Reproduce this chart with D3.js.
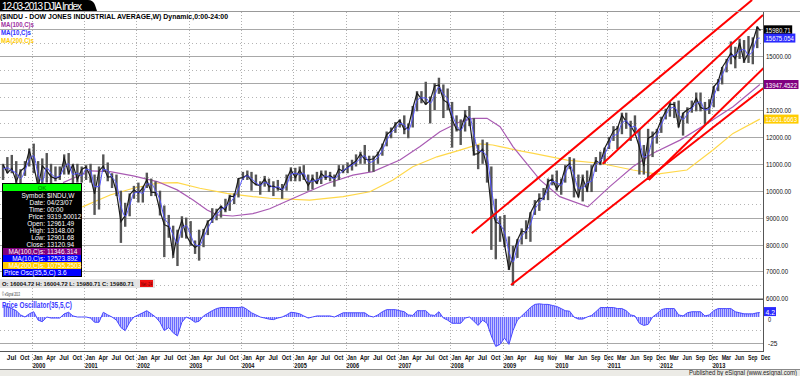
<!DOCTYPE html>
<html>
<head>
<meta charset="utf-8">
<script src="https://cdn.jsdelivr.net/npm/d3@7"></script>
<style>
  body { margin: 0; background: #fff; }
  svg { display: block; font-family: "Liberation Sans", Arial, sans-serif; }
</style>
</head>
<body>
<div id="chart"></div>
<script>
// monthly bars, Jun 1999 .. Dec 2013
const firstMonth = "1999-06-15";
const lastBarDate = "2013-12-03";

const closes = [
  10970, 10655, 10829, 10337, 10729, 10878, 11497,
  10940, 10128, 10922, 10734, 10522, 10448, 10522, 11215, 10651, 10971, 10415, 10787,
  10887, 10495, 9879, 10735, 10912, 10502, 10523, 9950, 8848, 9075, 9852, 10022,
  9920, 10106, 10404, 9946, 9925, 9243, 8737, 8664, 7592, 8397, 8896, 8342,
  8054, 7891, 7992, 8480, 8850, 8985, 9234, 9416, 9275, 9801, 9782, 10454,
  10488, 10584, 10358, 10226, 10188, 10435, 10140, 10174, 10080, 10027, 10428, 10783,
  10490, 10766, 10504, 10193, 10467, 10275, 10641, 10482, 10568, 10440, 10806, 10718,
  10865, 10993, 11109, 11367, 11168, 11150, 11186, 11381, 11679, 12081, 12222, 12463,
  12622, 12269, 12354, 13063, 13628, 13409, 13212, 13358, 13896, 13930, 13372, 13265,
  12650, 12266, 12263, 12820, 12638, 11350, 11378, 11544, 10851, 9325, 8829, 8776,
  8001, 7063, 7609, 8168, 8500, 8447, 9172, 9496, 9712, 9713, 10345, 10428,
  10067, 10325, 10857, 11009, 10137, 9774, 10466, 10015, 10788, 11118, 11006, 11578,
  11892, 12226, 12320, 12811, 12570, 12414, 12143, 11614, 10913, 11955, 12046, 12218,
  12633, 12952, 13212, 13214, 12393, 12880, 13009, 13091, 13437, 13096, 13026, 13104,
  13861, 14054, 14579, 14840, 15116, 14910, 15500, 14810, 15130, 15546, 16086, 15980.71
];
const highs = [
  11000, 11250, 11330, 11100, 10800, 11100, 11570,
  11750, 11100, 11200, 11400, 11000, 10900, 10900, 11350, 11400, 10980, 11000, 10900,
  10950, 11000, 10600, 10900, 11350, 11050, 10650, 10600, 10000, 9550, 9900, 10180,
  10300, 10160, 10670, 10450, 10350, 10000, 9450, 9100, 8700, 8550, 9050, 9000,
  8870, 8150, 8550, 8580, 8900, 9350, 9330, 9450, 9700, 9850, 9900, 10470,
  10700, 10750, 10700, 10600, 10350, 10550, 10450, 10350, 10400, 10250, 10600, 10870,
  10850, 10900, 10950, 10600, 10600, 10700, 10750, 10750, 10700, 10600, 10950, 10950,
  11050, 11150, 11350, 11450, 11700, 11300, 11300, 11450, 11750, 12200, 12350, 12550,
  12650, 12800, 12500, 13150, 13700, 13700, 14050, 13500, 14000, 14200, 13950, 13800,
  13300, 12800, 12650, 13000, 13150, 12700, 11700, 11900, 11800, 10900, 9700, 9050,
  9100, 8300, 7950, 8200, 8600, 8900, 9200, 9650, 9900, 10100, 10450, 10600,
  10750, 10450, 10950, 11250, 11200, 10600, 10600, 10750, 10950, 11250, 11450, 11600,
  12000, 12400, 12400, 12900, 12900, 12600, 12800, 12300, 11700, 12300, 12200, 12300,
  12750, 13050, 13300, 13300, 13350, 12900, 13100, 13350, 13650, 13650, 13300, 13400,
  13900, 14150, 14600, 14900, 15550, 15350, 15650, 15600, 15750, 15700, 16100, 16005
];
const lows = [
  10400, 10650, 10650, 10200, 9900, 10550, 10900,
  10650, 9860, 9730, 10300, 10200, 10350, 10400, 10600, 10600, 9650, 10300, 10300,
  10400, 10300, 9100, 9300, 10700, 10350, 10100, 9800, 8060, 8660, 9050, 9700,
  9560, 9560, 10100, 9800, 9800, 9080, 7530, 8250, 7500, 7200, 8250, 8220,
  7950, 7650, 7400, 7900, 8350, 8800, 8900, 9000, 9200, 9250, 9500, 9750,
  10400, 10400, 10000, 10200, 9850, 10150, 9950, 9800, 10000, 9700, 10000, 10350,
  10350, 10350, 10400, 10000, 10050, 10250, 10250, 10400, 10350, 10150, 10400, 10650,
  10650, 10750, 10900, 11000, 11000, 10700, 10700, 11000, 11300, 11650, 11950, 12150,
  12350, 12100, 11950, 12350, 12950, 13250, 13200, 12500, 13000, 13600, 12700, 13000,
  11600, 12200, 11700, 12200, 12400, 11300, 10800, 11000, 10300, 7800, 7450, 8100,
  7900, 7050, 6470, 7500, 8000, 8200, 8100, 9100, 9250, 9650, 9650, 10200,
  10000, 9850, 10300, 10800, 9750, 9750, 9600, 9950, 9950, 10700, 10950, 11000,
  11550, 11850, 11550, 12100, 12300, 11850, 12100, 10600, 10600, 10400, 11250, 11750,
  12150, 12650, 12750, 12700, 12350, 12050, 12500, 12900, 12950, 12950, 12450, 12850,
  13100, 13700, 13950, 14400, 14700, 14550, 14900, 14750, 14750, 14700, 15300, 15950
];
const ma10 = [
  10800, 10850, 10750, 10650, 10450, 10750, 11150,
  11300, 10600, 10350, 10850, 10650, 10500, 10550, 10850, 11000, 10600, 10650, 10550,
  10800, 10750, 10150, 10150, 10800, 10750, 10500, 10250, 9450, 9050, 9450, 9900,
  9950, 9900, 10250, 10250, 10000, 9650, 9000, 8750, 8350, 8050, 8600, 8700,
  8350, 8000, 7950, 8250, 8600, 8900, 9100, 9300, 9400, 9550, 9750, 10050,
  10450, 10550, 10450, 10300, 10200, 10300, 10250, 10100, 10150, 10050, 10200, 10600,
  10650, 10600, 10650, 10350, 10350, 10400, 10450, 10550, 10500, 10450, 10600, 10750,
  10850, 10950, 11050, 11200, 11300, 11050, 11100, 11250, 11500, 11850, 12150, 12300,
  12500, 12450, 12250, 12700, 13350, 13450, 13450, 13250, 13550, 13850, 13600, 13400,
  12850, 12450, 12250, 12550, 12750, 12100, 11500, 11450, 11250, 10100, 9100, 8750,
  8450, 7750, 7350, 7950, 8300, 8500, 8750, 9300, 9550, 9750, 10050, 10350,
  10300, 10200, 10600, 10950, 10600, 10100, 10100, 10300, 10350, 10950, 11100, 11350,
  11700, 12050, 12100, 12500, 12600, 12350, 12400, 11900, 11250, 11350, 11900, 12050,
  12450, 12800, 13050, 13100, 12850, 12650, 12850, 13050, 13250, 13300, 13000, 13050,
  13500, 13950, 14300, 14650, 15000, 15050, 15200, 15250, 15050, 15200, 15650, 15675.054
];
const oscValues = [
  11, 10, 8, 6, 2, 0, 3,
  5, -3, -4.5, 0, -1, -1, -1, 3, 4.5, 1, 0, 0,
  0, -1, -5, -5, 4.5, 2, 0, -3, -10, -13, -5, 0,
  2, 4, 6, 3, 0, -5, -13, -10, -15, -18, -5, 0,
  -2, -5, -4, 1, 3.5, 6, 8, 9, 9, 9, 9, 9,
  9.5, 7, 4, 2, 0, -1, -2, -2.5, -1, 0, 2, 4.5,
  4, 3, 1, -1, 0, 1, 1, 1, 1, 0, 2, 4,
  4, 4, 4, 4, 4, 1, 0, 2, 5, 7, 7, 7,
  6, 5, 2, 1.5, 6, 6, 6, 2, 1.5, 5, -1, -3,
  -6, -6, -6, -1, 0, -4, -8, -3, -6, -18, -28, -26,
  -20, -26, -13, -3, 1, 5, 9, 12, 12.5, 12, 12, 11,
  10, 8, 6, 5.5, 0, -2, -2, 0, 1.5, 5, 9, 9,
  9, 9, 8, 8, 6, 2, 1, -6, -8, -7, 0, 3,
  7, 8, 8, 8, 2, 1, 4, 5, 5, 5, 1, 2,
  6, 8, 8, 8, 8, 5, 4, 3, 3, 3, 4, 4.2
];

// long moving averages
const ma100Dates = ["2000-08-07", "2001-02-12", "2001-07-02", "2001-12-10", "2002-05-27", "2002-10-13",
  "2003-02-01", "2003-05-10", "2003-07-18", "2003-11-05", "2004-03-25", "2004-07-20", "2005-01-01",
  "2005-08-25", "2006-02-21", "2006-07-11", "2007-01-15", "2007-06-05", "2007-10-22", "2008-03-10",
  "2008-06-09", "2008-09-15", "2008-12-15", "2009-03-15", "2009-05-05", "2009-09-20", "2010-02-05",
  "2010-08-20", "2011-01-20", "2011-07-01", "2011-11-18", "2012-05-25", "2012-11-30", "2013-05-30",
  "2013-12-03"];
const ma100Vals = [10300, 10740, 10710, 10550, 10340, 10030, 9650, 9280, 9100, 9060, 9150, 9330, 9720,
  10270, 10580, 10710, 11140, 11640, 12190, 12560, 12690, 12690, 12380, 11640, 11300, 10400, 9780,
  9400, 10150, 10890, 11390, 11880, 12500, 13120, 13947.4522];
const ma200Dates = ["2000-12-20", "2001-07-02", "2001-12-10", "2002-05-27", "2002-10-13", "2003-03-20",
  "2003-09-25", "2004-03-25", "2004-07-20", "2005-04-25", "2005-12-15", "2006-06-20", "2006-11-28",
  "2007-04-15", "2007-10-01", "2008-03-10", "2008-07-28", "2008-10-25", "2008-12-15", "2009-05-05",
  "2009-08-05", "2010-03-28", "2010-11-12", "2011-07-01", "2011-12-15", "2012-07-12", "2013-01-10",
  "2013-05-30", "2013-12-03"];
const ma200Vals = [9400, 9840, 10090, 10280, 10300, 10090, 9900, 9780, 9720, 9650, 9780, 9960, 10400,
  10890, 11260, 11510, 11740, 11700, 11640, 11480, 11390, 11140, 11020, 10770, 10620, 10770, 11510,
  12130, 12661.6663];

// red channel lines drawn on the chart: [start date, start value, end date, end value]
const trendLines = [
  ["2008-05-31", 8416, "2013-10-10", 17090],
  ["2010-12-01", 11000, "2013-12-25", 16530],
  ["2009-03-01", 6494, "2014-01-08", 13860],
  ["2011-10-20", 10398, "2014-01-08", 14610]
];

const priceTicks = d3.range(6000, 16001, 1000);
const monthTicks = ["1999-07", "1999-10",
  "2000-01", "2000-04", "2000-07", "2000-10", "2001-01", "2001-04", "2001-07", "2001-10",
  "2002-01", "2002-04", "2002-07", "2002-10", "2003-01", "2003-04", "2003-07", "2003-10",
  "2004-01", "2004-04", "2004-07", "2004-10", "2005-01", "2005-04", "2005-07", "2005-10",
  "2006-01", "2006-04", "2006-07", "2006-10", "2007-01", "2007-04", "2007-07", "2007-10",
  "2008-01", "2008-04", "2008-07", "2008-10", "2009-01", "2009-04", "2009-08", "2009-11",
  "2010-03", "2010-06", "2010-09", "2010-12", "2011-03", "2011-06", "2011-09", "2011-12",
  "2012-03", "2012-06", "2012-09", "2012-12", "2013-03", "2013-06", "2013-09", "2013-12"];
const yearTicks = d3.range(2000, 2014);

const dataWindowRows = [["Symbol:", "$INDU,W"], ["Date:", "04/23/07"], ["Time:", "00:00"],
  ["Price:", "9319.50012"], ["Open:", "12961.49"], ["High:", "13148.00"], ["Low:", "12901.68"],
  ["Close:", "13120.94"]];

// ---------- scales ----------
const W = 800, H = 376;
const plotRight = 763;
const parseDay = d3.timeParse("%Y-%m-%d");
const parseMonth = d3.timeParse("%Y-%m");
const charW = 3.15; // the chart's narrow label font, px per char

const x = d3.scaleTime()
  .domain([new Date(2000, 0, 1), new Date(2013, 0, 1)])
  .range([31.7, 711.7]);
const y = d3.scaleLinear().domain([16000, 6000]).range([29.3, 298.3]);
const yo = d3.scaleLinear().domain([0, -25]).range([317, 343.3]);

const start = parseDay(firstMonth);
const months = closes.map((c, i) => i === closes.length - 1 ? parseDay(lastBarDate) : d3.timeMonth.offset(start, i));
const bars = months.map((d, i) => ({ date: d, high: highs[i], low: lows[i], close: closes[i], ma: ma10[i], osc: oscValues[i] }));

const valueTags = [
  { v: closes[closes.length - 1], label: "15980.71", bg: "#000" },
  { v: ma10[ma10.length - 1], label: "15675.054", bg: "#2a2aff" },
  { v: ma100Vals[ma100Vals.length - 1], label: "13947.4522", bg: "#800080" },
  { v: ma200Vals[ma200Vals.length - 1], label: "12661.6663", bg: "#ffcc00" }
];

const svg = d3.select("#chart").append("svg").attr("width", W).attr("height", H);
svg.append("rect").attr("width", W).attr("height", H).attr("fill", "#fff");

const defs = svg.append("defs");
defs.append("clipPath").attr("id", "mainClip").append("rect")
  .attr("x", 0).attr("y", 0).attr("width", plotRight).attr("height", 298);
defs.append("clipPath").attr("id", "oscClip").append("rect")
  .attr("x", 0).attr("y", 300).attr("width", plotRight).attr("height", 51);
const pat = defs.append("pattern").attr("id", "oscFill").attr("patternUnits", "userSpaceOnUse")
  .attr("width", 2).attr("height", 4);
pat.append("rect").attr("width", 2).attr("height", 4).attr("fill", "#c0c0ff");
pat.append("rect").attr("width", 1).attr("height", 4).attr("fill", "#6a6aff");

// ---------- grid ----------
const grid = svg.append("g");
d3.range(6000, 16001, 500).forEach(v => {
  grid.append("line").attr("x1", 0).attr("x2", plotRight)
    .attr("y1", Math.round(y(v)) + 0.5).attr("y2", Math.round(y(v)) + 0.5)
    .attr("stroke", v % 1000 === 0 ? "#a8a8a8" : "#b4b4b4")
    .attr("stroke-dasharray", v % 1000 === 0 ? null : "1,3");
});
grid.append("line").attr("x1", 0).attr("x2", plotRight).attr("y1", 330.5).attr("y2", 330.5)
  .attr("stroke", "#b4b4b4").attr("stroke-dasharray", "1,3");
grid.append("line").attr("x1", 0).attr("x2", plotRight).attr("y1", 343.5).attr("y2", 343.5)
  .attr("stroke", "#a8a8a8");
grid.selectAll("line.yr").data(yearTicks).join("line").attr("class", "yr")
  .attr("x1", d => Math.round(x(new Date(d, 0, 1))) + 0.5)
  .attr("x2", d => Math.round(x(new Date(d, 0, 1))) + 0.5)
  .attr("y1", 12).attr("y2", 369)
  .attr("stroke", "#b0b0b0").attr("stroke-dasharray", "1,2");

// ---------- price panel ----------
const main = svg.append("g").attr("clip-path", "url(#mainClip)");

main.append("path").datum(ma200Dates.map((d, i) => [parseDay(d), ma200Vals[i]]))
  .attr("fill", "none").attr("stroke", "#ffd84a").attr("stroke-width", 1.2)
  .attr("d", d3.line().x(d => x(d[0])).y(d => y(d[1])));
main.append("path").datum(ma100Dates.map((d, i) => [parseDay(d), ma100Vals[i]]))
  .attr("fill", "none").attr("stroke", "#a95bb3").attr("stroke-width", 1.2)
  .attr("d", d3.line().x(d => x(d[0])).y(d => y(d[1])));

main.selectAll("rect.bar").data(bars).join("rect").attr("class", "bar")
  .attr("x", d => x(d.date) - 1.2).attr("width", 2.4)
  .attr("y", d => y(d.high)).attr("height", d => y(d.low) - y(d.high))
  .attr("fill", "#555");
main.append("path").datum(bars)
  .attr("fill", "none").attr("stroke", "#1a1a1a").attr("stroke-width", 1.2)
  .attr("d", d3.line().x(d => x(d.date)).y(d => y(d.close)));
main.append("path").datum(bars)
  .attr("fill", "none").attr("stroke", "#5252ff").attr("stroke-width", 1)
  .attr("d", d3.line().curve(d3.curveMonotoneX).x(d => x(d.date)).y(d => y(d.ma)));

main.selectAll("line.trend").data(trendLines).join("line").attr("class", "trend")
  .attr("x1", d => x(parseDay(d[0]))).attr("y1", d => y(d[1]))
  .attr("x2", d => x(parseDay(d[2]))).attr("y2", d => y(d[3]))
  .attr("stroke", "#ff0000").attr("stroke-width", 2);

// ---------- oscillator panel ----------
const osc = svg.append("g").attr("clip-path", "url(#oscClip)");
osc.append("path").datum(bars)
  .attr("fill", "url(#oscFill)")
  .attr("d", d3.area().x(d => x(d.date)).y0(yo(0)).y1(d => yo(d.osc)));
osc.append("path").datum(bars)
  .attr("fill", "none").attr("stroke", "#4a4aff").attr("stroke-width", 1)
  .attr("d", d3.line().x(d => x(d.date)).y(d => yo(d.osc)));

// panel frames
const frame = svg.append("g").attr("stroke", "#555").attr("stroke-width", 1);
frame.append("line").attr("x1", 0).attr("x2", plotRight).attr("y1", 299.5).attr("y2", 299.5);
frame.append("line").attr("x1", 0).attr("x2", plotRight).attr("y1", 351.5).attr("y2", 351.5);
frame.append("line").attr("x1", plotRight + 0.5).attr("x2", plotRight + 0.5).attr("y1", 11).attr("y2", 352);
frame.append("line").attr("x1", 0).attr("x2", W).attr("y1", 11.5).attr("y2", 11.5).attr("stroke", "#999");

// ---------- right axis ----------
const narrow = (sel, size) => sel.attr("font-size", size + "px")
  .attr("textLength", function () { return this.textContent.length * charW; })
  .attr("lengthAdjust", "spacingAndGlyphs");

// tick labels hidden behind a value tag are left out, as in the original
const freeTicks = priceTicks.filter(t => valueTags.every(g => Math.abs(y(t) - y(g.v)) > 7));
const rightAxis = svg.append("g").attr("fill", "#111");
rightAxis.selectAll("text").data(freeTicks).join("text")
  .attr("x", 766).attr("y", d => y(d) + 3)
  .text(d => d3.format(".2f")(d))
  .call(narrow, 8);
rightAxis.append("text").attr("x", 768).attr("y", yo(0) + 4.5).text("0").call(narrow, 7);
rightAxis.append("text").attr("x", 768).attr("y", yo(-25) + 3).text("-25").call(narrow, 8);

const tags = svg.append("g").selectAll("g").data(valueTags).join("g")
  .attr("transform", d => `translate(764,${y(d.v) - 4.5})`);
tags.append("rect").attr("width", d => Math.min(35, d.label.length * charW + 3)).attr("height", 9).attr("fill", d => d.bg);
tags.append("text").attr("x", 1.5).attr("y", 7.5).attr("fill", "#fff").text(d => d.label)
  .attr("font-size", "7px")
  .attr("textLength", d => Math.min(32, d.label.length * charW))
  .attr("lengthAdjust", "spacingAndGlyphs");

const oscTag = svg.append("g").attr("transform", `translate(764,${yo(oscValues[oscValues.length - 1]) - 5.5})`);
oscTag.append("rect").attr("width", 12).attr("height", 9).attr("fill", "#2a2aff");
oscTag.append("text").attr("x", 1.5).attr("y", 7.5).attr("fill", "#fff").text("4.2").call(narrow, 7.5);

// ---------- x axis ----------
const xAxis = svg.append("g").attr("font-weight", "bold").attr("fill", "#111");
xAxis.selectAll("text.m").data(monthTicks).join("text").attr("class", "m")
  .attr("x", d => x(parseMonth(d)) + 1.5).attr("y", 359.5)
  .text(d => d3.timeFormat("%b")(parseMonth(d)))
  .call(narrow, 7.5);
xAxis.selectAll("text.y").data(yearTicks).join("text").attr("class", "y")
  .attr("x", d => x(new Date(d, 0, 1)) + 1).attr("y", 367.5)
  .text(d => d)
  .call(narrow, 7.5);

// bottom status strip
svg.append("rect").attr("x", 0).attr("y", 369).attr("width", W).attr("height", 7).attr("fill", "#ecebe6");
svg.append("line").attr("x1", 0).attr("x2", W).attr("y1", 369.5).attr("y2", 369.5).attr("stroke", "#888");
svg.append("text").attr("x", 797).attr("y", 374.8).attr("text-anchor", "end")
  .attr("font-size", "6.5px").attr("fill", "#222")
  .attr("textLength", 108).attr("lengthAdjust", "spacingAndGlyphs")
  .text("Published by eSignal (www.esignal.com)");

// ---------- titles / legends ----------
svg.append("path").attr("d", "M0,0 H88 Q93,0 95,5 L97,11 H0 Z").attr("fill", "#000");
svg.append("text").attr("x", 2).attr("y", 9.5).attr("font-size", "10px").attr("fill", "#fff")
  .attr("textLength", 80).text("12-03-2013 DJIA Index");
svg.append("text").attr("x", 0).attr("y", 18.5).attr("font-size", "8px").attr("font-weight", "bold")
  .attr("textLength", 228).attr("lengthAdjust", "spacingAndGlyphs")
  .text("($INDU - DOW JONES INDUSTRIAL AVERAGE,W) Dynamic,0:00-24:00");
[["MA(100,C)s", "#a030a0", 26.5, 33], ["MA(10,C)s", "#3030ff", 34.5, 30], ["MA(200,C)s", "#ffcc00", 42.5, 33]]
  .forEach(([t, c, yy, w]) => svg.append("text").attr("x", 1).attr("y", yy).attr("font-size", "8px")
    .attr("font-weight", "bold").attr("fill", c)
    .attr("textLength", w).attr("lengthAdjust", "spacingAndGlyphs").text(t));
svg.append("text").attr("x", 2).attr("y", 308).attr("font-size", "8.5px").attr("font-weight", "bold")
  .attr("fill", "#3a3aff").attr("textLength", 70).attr("lengthAdjust", "spacingAndGlyphs")
  .text("Price Oscillator(35,5,C)");
svg.append("text").attr("x", 2).attr("y", 296).attr("font-size", "4.5px").attr("fill", "#333")
  .attr("textLength", 18).attr("lengthAdjust", "spacingAndGlyphs").text("© eSignal 2013");

// OHLC bar
const ohlc = svg.append("g");
ohlc.append("rect").attr("x", 0).attr("y", 279).attr("width", 155).attr("height", 9).attr("fill", "#e4e4e4");
ohlc.append("text").attr("x", 2).attr("y", 286).attr("font-size", "6px").attr("font-weight", "bold")
  .attr("fill", "#111").attr("textLength", 132).attr("lengthAdjust", "spacingAndGlyphs")
  .text("O: 16004.72   H: 16004.72   L: 15980.71   C: 15980.71");
ohlc.append("rect").attr("x", 140).attr("y", 280).attr("width", 13).attr("height", 7).attr("fill", "#ee1111");
ohlc.append("text").attr("x", 141).attr("y", 285.5).attr("font-size", "4.5px").attr("fill", "#600")
  .attr("textLength", 11).attr("lengthAdjust", "spacingAndGlyphs").text("Net -24");

// data window
const dw = svg.append("g");
dw.append("rect").attr("x", 2).attr("y", 183).attr("width", 80).attr("height", 94).attr("fill", "#000");
dw.append("rect").attr("x", 3).attr("y", 184).attr("width", 78).attr("height", 7).attr("fill", "#00ff00");
dw.append("text").attr("x", 42).attr("y", 190).attr("text-anchor", "middle").attr("font-size", "6px")
  .attr("fill", "#007700").text("OK");
dataWindowRows.forEach((r, i) => {
  const yy = 197.5 + i * 7;
  dw.append("text").attr("x", 45).attr("y", yy).attr("text-anchor", "end").attr("font-size", "6.5px")
    .attr("fill", "#fff").text(r[0]);
  dw.append("text").attr("x", 47).attr("y", yy).attr("font-size", "6.5px").attr("fill", "#fff").text(r[1]);
});
[["MA(100,C)s:", "11346.314", "#800080", 248], ["MA(10,C)s:", "12523.892", "#0000ff", 255],
 ["MA(200,C)s:", "10755.2503", "#ffcc00", 262]].forEach(([a, b, c, yy]) => {
  dw.append("rect").attr("x", 3).attr("y", yy).attr("width", 78).attr("height", 7).attr("fill", c);
  dw.append("text").attr("x", 45).attr("y", yy + 6).attr("text-anchor", "end").attr("font-size", "6.5px")
    .attr("fill", "#fff").text(a);
  dw.append("text").attr("x", 47).attr("y", yy + 6).attr("font-size", "6.5px").attr("fill", "#fff").text(b);
});
dw.append("rect").attr("x", 3).attr("y", 269).attr("width", 78).attr("height", 7).attr("fill", "#0000ff");
dw.append("text").attr("x", 4).attr("y", 275).attr("font-size", "6.5px").attr("fill", "#fff").text("Price Osc(35,5,C) 3.6");
</script>
</body>
</html>
